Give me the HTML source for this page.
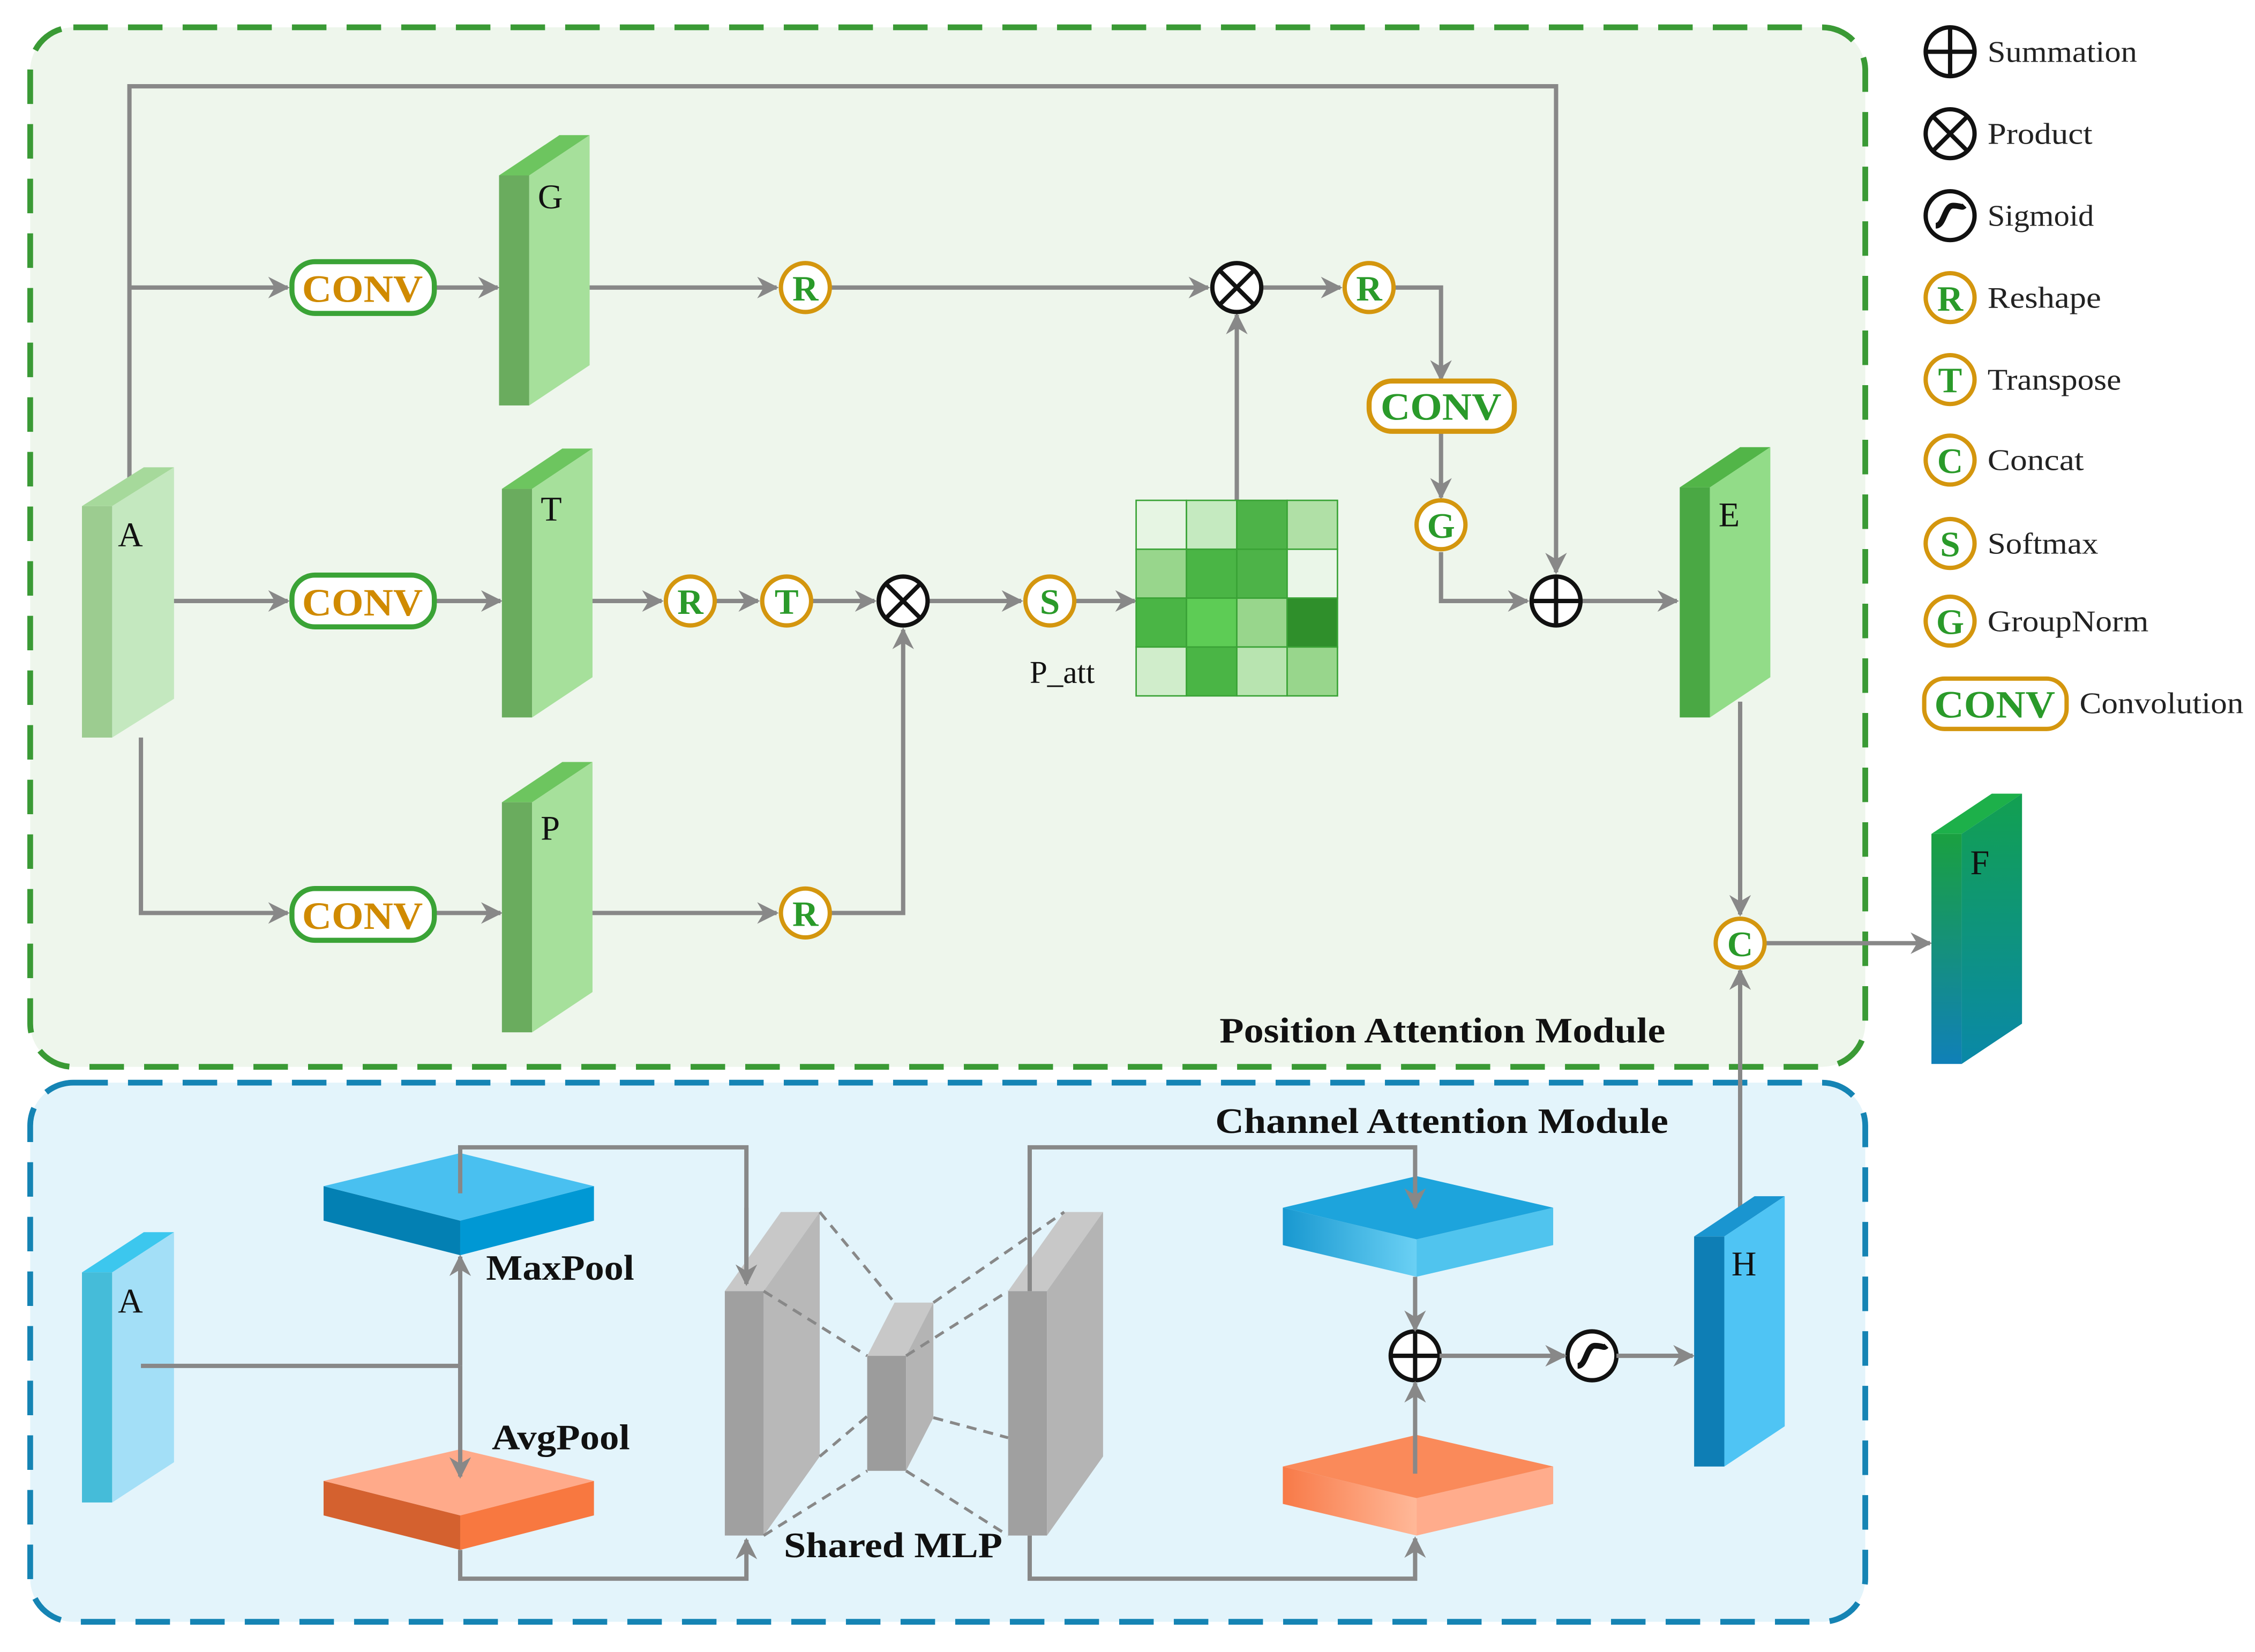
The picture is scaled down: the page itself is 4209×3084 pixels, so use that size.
<!DOCTYPE html>
<html><head><meta charset="utf-8"><style>
html,body{margin:0;padding:0;background:#fff;}
svg{display:block;}
svg text{font-family:"Liberation Serif","DejaVu Serif",serif !important;}
</style></head><body>
<svg width="4209" height="3084" viewBox="0 0 1568 1149" preserveAspectRatio="none" xmlns="http://www.w3.org/2000/svg" font-family="Liberation Serif, serif">
<defs>
<marker id="ar" viewBox="0 0 10 10" refX="9" refY="5" markerWidth="5" markerHeight="5" orient="auto"><path d="M0,0 L10,5 L0,10 L3,5 z" fill="#888"/></marker>
<linearGradient id="gF" x1="0" y1="0" x2="0" y2="1"><stop offset="0" stop-color="#1aa040"/><stop offset="1" stop-color="#1080b8"/></linearGradient>
<linearGradient id="gF2" x1="0" y1="0" x2="0" y2="1"><stop offset="0" stop-color="#12a050"/><stop offset="1" stop-color="#0a88a8"/></linearGradient>
<linearGradient id="gB" x1="0" y1="0" x2="1" y2="0"><stop offset="0" stop-color="#1898d0"/><stop offset="1" stop-color="#6ad0f4"/></linearGradient>
<linearGradient id="gO" x1="0" y1="0" x2="1" y2="0"><stop offset="0" stop-color="#f87a48"/><stop offset="1" stop-color="#ffb898"/></linearGradient>
</defs>
<rect x="0" y="0" width="1568" height="1149" fill="#fff"/>
<rect x="21" y="19" width="1276" height="723" rx="30" fill="#eef6ec" stroke="#3a9a35" stroke-width="4" stroke-dasharray="24 14"/>
<rect x="21" y="753" width="1276" height="375" rx="30" fill="#e3f4fb" stroke="#1584b4" stroke-width="4" stroke-dasharray="24 14"/>

<g stroke="#888" stroke-width="3" fill="none">
<polyline points="90,336 90,60 1082,60 1082,398" marker-end="url(#ar)"/>
<line x1="90" y1="200" x2="200" y2="200" marker-end="url(#ar)"/>
<line x1="302" y1="200" x2="346" y2="200" marker-end="url(#ar)"/>
<line x1="395" y1="200" x2="540" y2="200" marker-end="url(#ar)"/>
<line x1="578" y1="200" x2="840" y2="200" marker-end="url(#ar)"/>
<line x1="878" y1="200" x2="932" y2="200" marker-end="url(#ar)"/>
<polyline points="970,200 1002,200 1002,264" marker-end="url(#ar)"/>
<line x1="1002" y1="300" x2="1002" y2="346" marker-end="url(#ar)"/>
<polyline points="1002,384 1002,418 1062,418" marker-end="url(#ar)"/>
<line x1="1100" y1="418" x2="1166" y2="418" marker-end="url(#ar)"/>
<line x1="98" y1="418" x2="200" y2="418" marker-end="url(#ar)"/>
<line x1="302" y1="418" x2="348" y2="418" marker-end="url(#ar)"/>
<line x1="397" y1="418" x2="460" y2="418" marker-end="url(#ar)"/>
<line x1="498" y1="418" x2="527" y2="418" marker-end="url(#ar)"/>
<line x1="565" y1="418" x2="608" y2="418" marker-end="url(#ar)"/>
<line x1="646" y1="418" x2="710" y2="418" marker-end="url(#ar)"/>
<line x1="748" y1="418" x2="789" y2="418" marker-end="url(#ar)"/>
<polyline points="98,513 98,635 200,635" marker-end="url(#ar)"/>
<line x1="302" y1="635" x2="348" y2="635" marker-end="url(#ar)"/>
<line x1="397" y1="635" x2="540" y2="635" marker-end="url(#ar)"/>
<polyline points="578,635 628,635 628,438" marker-end="url(#ar)"/>
<line x1="860" y1="348" x2="860" y2="219" marker-end="url(#ar)"/>
<line x1="1210" y1="488" x2="1210" y2="636" marker-end="url(#ar)"/>
<line x1="1228" y1="656" x2="1342" y2="656" marker-end="url(#ar)"/>
<line x1="1210" y1="840" x2="1210" y2="675" marker-end="url(#ar)"/>
</g>

<g>
<polygon points="57,352 100,325 121,325 78,352" fill="#a6d99b"/>
<rect x="57" y="352" width="21" height="161" fill="#9ccc90"/>
<polygon points="78,352 121,325 121,486 78,513" fill="#c4e8bf"/>
<polygon points="347,122 389,94 410,94 368,122" fill="#6dc55f"/>
<rect x="347" y="122" width="21" height="160" fill="#6aac5e"/>
<polygon points="368,122 410,94 410,254 368,282" fill="#a6e09b"/>
<polygon points="349,340 391,312 412,312 370,340" fill="#6dc55f"/>
<rect x="349" y="340" width="21" height="159" fill="#6aac5e"/>
<polygon points="370,340 412,312 412,471 370,499" fill="#a6e09b"/>
<polygon points="349,558 391,530 412,530 370,558" fill="#6dc55f"/>
<rect x="349" y="558" width="21" height="160" fill="#6aac5e"/>
<polygon points="370,558 412,530 412,690 370,718" fill="#a6e09b"/>
<polygon points="1168,339 1210,311 1231,311 1189,339" fill="#52b548"/>
<rect x="1168" y="339" width="21" height="160" fill="#4aa844"/>
<polygon points="1189,339 1231,311 1231,471 1189,499" fill="#92dc88"/>
<polygon points="1343,580 1385,552 1406,552 1364,580" fill="#1db04a"/>
<rect x="1343" y="580" width="21" height="160" fill="url(#gF)"/>
<polygon points="1364,580 1406,552 1406,712 1364,740" fill="url(#gF2)"/>
<polygon points="57,885 100,857 121,857 78,885" fill="#3cc7ee"/>
<rect x="57" y="885" width="21" height="160" fill="#45bcd9"/>
<polygon points="78,885 121,857 121,1017 78,1045" fill="#a3dff7"/>
<polygon points="1178,860 1220,832 1241,832 1199,860" fill="#1a95d0"/>
<rect x="1178" y="860" width="21" height="160" fill="#0e7eb5"/>
<polygon points="1199,860 1241,832 1241,992 1199,1020" fill="#4fc4f4"/>
</g>
<g font-size="24" fill="#111">
<text x="82" y="380">A</text><text x="374" y="145">G</text><text x="376" y="362">T</text>
<text x="376" y="584">P</text><text x="1195" y="366">E</text><text x="1370" y="608">F</text>
<text x="82" y="913">A</text><text x="1204" y="887">H</text>
<text x="716" y="475" font-size="22">P_att</text>
</g>

<g stroke="#3aa336" stroke-width="1">
<rect x="790" y="348" width="35" height="34" fill="#e6f5e3"/><rect x="825" y="348" width="35" height="34" fill="#c5eac0"/><rect x="860" y="348" width="35" height="34" fill="#4db348"/><rect x="895" y="348" width="35" height="34" fill="#b0e0a6"/>
<rect x="790" y="382" width="35" height="34" fill="#98d68c"/><rect x="825" y="382" width="35" height="34" fill="#4ab545"/><rect x="860" y="382" width="35" height="34" fill="#4db348"/><rect x="895" y="382" width="35" height="34" fill="#eaf6e8"/>
<rect x="790" y="416" width="35" height="34" fill="#4ab545"/><rect x="825" y="416" width="35" height="34" fill="#5dcc55"/><rect x="860" y="416" width="35" height="34" fill="#98d68c"/><rect x="895" y="416" width="35" height="34" fill="#2f8f2b"/>
<rect x="790" y="450" width="35" height="34" fill="#d0edcb"/><rect x="825" y="450" width="35" height="34" fill="#4ab545"/><rect x="860" y="450" width="35" height="34" fill="#b8e4b0"/><rect x="895" y="450" width="35" height="34" fill="#98d68c"/>
</g>

<g stroke="#3aa336" stroke-width="3.5" fill="#fff">
<rect x="203" y="182" width="99" height="36" rx="16"/>
<rect x="203" y="400" width="99" height="36" rx="16"/>
<rect x="203" y="618" width="99" height="36" rx="16"/>
</g>
<rect x="952" y="265" width="101" height="35" rx="16" fill="#fff" stroke="#d4960e" stroke-width="3.5"/>
<g font-size="27" font-weight="bold" text-anchor="middle">
<text x="252" y="210" fill="#d08a00" textLength="84" lengthAdjust="spacingAndGlyphs">CONV</text>
<text x="252" y="428" fill="#d08a00" textLength="84" lengthAdjust="spacingAndGlyphs">CONV</text>
<text x="252" y="646" fill="#d08a00" textLength="84" lengthAdjust="spacingAndGlyphs">CONV</text>
<text x="1002" y="292" fill="#2a9a2a" textLength="84" lengthAdjust="spacingAndGlyphs">CONV</text>
</g>

<g stroke="#d4960e" stroke-width="3" fill="#fff">
<circle cx="560" cy="200" r="17"/><circle cx="952" cy="200" r="17"/><circle cx="1002" cy="365" r="17"/>
<circle cx="480" cy="418" r="17"/><circle cx="547" cy="418" r="17"/><circle cx="730" cy="418" r="17"/>
<circle cx="560" cy="635" r="17"/><circle cx="1210" cy="656" r="17"/>
</g>
<g font-size="25" font-weight="bold" fill="#2a9a2a" text-anchor="middle">
<text x="560" y="209">R</text><text x="952" y="209">R</text><text x="1002" y="374">G</text>
<text x="480" y="427">R</text><text x="547" y="427">T</text><text x="730" y="427">S</text>
<text x="560" y="644">R</text><text x="1210" y="665">C</text>
</g>

<g stroke="#111" stroke-width="3" fill="#fff">
<circle cx="860" cy="200" r="17"/><path d="M848,188 L872,212 M872,188 L848,212"/>
<circle cx="628" cy="418" r="17"/><path d="M616,406 L640,430 M640,406 L616,430"/>
<circle cx="1082" cy="418" r="17"/><path d="M1065,418 H1099 M1082,401 V435"/>
<circle cx="984" cy="943" r="17"/><path d="M967,943 H1001 M984,926 V960"/>
<circle cx="1107" cy="943" r="17"/><path d="M1097,950 C1103,950 1103,936 1109,936 S1115,938 1117,936" stroke-width="4" fill="none"/>
</g>

<polygon points="225,825 320,849 320,873 225,849" fill="#0380b3"/>
<polygon points="320,849 413,825 413,849 320,873" fill="#0098d4"/>
<polygon points="225,825 320,802 413,825 320,849" fill="#49c0f0"/>
<polygon points="225,1030 320,1054 320,1078 225,1054" fill="#d4612f"/>
<polygon points="320,1054 413,1030 413,1054 320,1078" fill="#f87840"/>
<polygon points="225,1030 320,1008 413,1030 320,1054" fill="#ffaa8a"/>
<polygon points="892,840 985,862 985,888 892,866" fill="url(#gB)"/>
<polygon points="985,862 1080,840 1080,866 985,888" fill="#50c4ee"/>
<polygon points="892,840 985,818 1080,840 985,862" fill="#1da4dc"/>
<polygon points="892,1020 985,1042 985,1068 892,1046" fill="url(#gO)"/>
<polygon points="985,1042 1080,1020 1080,1046 985,1068" fill="#ffac8c"/>
<polygon points="892,1020 985,998 1080,1020 985,1042" fill="#fa8a5a"/>

<g stroke="#888" stroke-width="3" fill="none">
<line x1="98" y1="950" x2="320" y2="950"/>
<line x1="320" y1="950" x2="320" y2="874" marker-end="url(#ar)"/>
<line x1="320" y1="950" x2="320" y2="1027" marker-end="url(#ar)"/>
<polyline points="320,830 320,798 519,798 519,893" marker-end="url(#ar)"/>
<polyline points="320,1078 320,1098 519,1098 519,1071" marker-end="url(#ar)"/>
<polyline points="716,898 716,798 984,798 984,840" marker-end="url(#ar)"/>
<polyline points="716,1068 716,1098 984,1098 984,1070" marker-end="url(#ar)"/>
<line x1="984" y1="888" x2="984" y2="925" marker-end="url(#ar)"/>
<line x1="984" y1="1025" x2="984" y2="962" marker-end="url(#ar)"/>
<line x1="1001" y1="943" x2="1088" y2="943" marker-end="url(#ar)"/>
<line x1="1124" y1="943" x2="1177" y2="943" marker-end="url(#ar)"/>
</g>

<polygon points="504,898 543,843 570,843 531,898" fill="#c8c8c8"/>
<rect x="504" y="898" width="27" height="170" fill="#a0a0a0"/>
<polygon points="531,898 570,843 570,1013 531,1068" fill="#b8b8b8"/>
<polygon points="603,943 622,906 649,906 630,943" fill="#c8c8c8"/>
<rect x="603" y="943" width="27" height="80" fill="#9c9c9c"/>
<polygon points="630,943 649,906 649,986 630,1023" fill="#b4b4b4"/>
<polygon points="701,898 740,843 767,843 728,898" fill="#c8c8c8"/>
<rect x="701" y="898" width="27" height="170" fill="#a0a0a0"/>
<polygon points="728,898 767,843 767,1013 728,1068" fill="#b4b4b4"/>
<line x1="519" y1="840" x2="519" y2="893" stroke="#888" stroke-width="3" marker-end="url(#ar)"/>
<line x1="716" y1="898" x2="716" y2="840" stroke="#888" stroke-width="3"/>
<g stroke="#888" stroke-width="2" stroke-dasharray="7 5" fill="none">
<line x1="570" y1="843" x2="622" y2="906"/><line x1="531" y1="898" x2="603" y2="943"/>
<line x1="531" y1="1068" x2="603" y2="1023"/><line x1="570" y1="1013" x2="603" y2="985"/>
<line x1="649" y1="906" x2="740" y2="843"/><line x1="630" y1="943" x2="701" y2="898"/>
<line x1="649" y1="986" x2="701" y2="1000"/><line x1="630" y1="1023" x2="701" y2="1068"/>
</g>

<g font-size="25" font-weight="bold" fill="#111">
<text x="848" y="725" textLength="310" lengthAdjust="spacingAndGlyphs">Position Attention Module</text>
<text x="845" y="788" textLength="315" lengthAdjust="spacingAndGlyphs">Channel Attention Module</text>
<text x="338" y="890" textLength="103" lengthAdjust="spacingAndGlyphs">MaxPool</text>
<text x="342" y="1008" textLength="96" lengthAdjust="spacingAndGlyphs">AvgPool</text>
<text x="545" y="1083" textLength="152" lengthAdjust="spacingAndGlyphs">Shared MLP</text>
</g>

<g stroke="#111" stroke-width="3" fill="#fff">
<circle cx="1356" cy="36" r="17"/><path d="M1339,36 H1373 M1356,19 V53"/>
<circle cx="1356" cy="93" r="17"/><path d="M1344,81 L1368,105 M1368,81 L1344,105"/>
<circle cx="1356" cy="150" r="17"/><path d="M1346,157 C1352,157 1352,143 1358,143 S1364,145 1366,143" stroke-width="4" fill="none"/>
</g>
<g stroke="#d4960e" stroke-width="3" fill="#fff">
<circle cx="1356" cy="207" r="17"/><circle cx="1356" cy="264" r="17"/><circle cx="1356" cy="320" r="17"/>
<circle cx="1356" cy="378" r="17"/><circle cx="1356" cy="432" r="17"/>
<rect x="1338" y="472" width="99" height="35" rx="14"/>
</g>
<g font-size="25" font-weight="bold" fill="#2a9a2a" text-anchor="middle">
<text x="1356" y="216">R</text><text x="1356" y="273">T</text><text x="1356" y="329">C</text>
<text x="1356" y="387">S</text><text x="1356" y="441">G</text>
<text x="1387" y="499" font-size="27" textLength="84" lengthAdjust="spacingAndGlyphs">CONV</text>
</g>
<g font-size="21" fill="#222">
<text x="1382" y="43" textLength="104" lengthAdjust="spacingAndGlyphs">Summation</text>
<text x="1382" y="100" textLength="73" lengthAdjust="spacingAndGlyphs">Product</text>
<text x="1382" y="157" textLength="74" lengthAdjust="spacingAndGlyphs">Sigmoid</text>
<text x="1382" y="214" textLength="79" lengthAdjust="spacingAndGlyphs">Reshape</text>
<text x="1382" y="271" textLength="93" lengthAdjust="spacingAndGlyphs">Transpose</text>
<text x="1382" y="327" textLength="67" lengthAdjust="spacingAndGlyphs">Concat</text>
<text x="1382" y="385" textLength="77" lengthAdjust="spacingAndGlyphs">Softmax</text>
<text x="1382" y="439" textLength="112" lengthAdjust="spacingAndGlyphs">GroupNorm</text>
<text x="1446" y="496" textLength="114" lengthAdjust="spacingAndGlyphs">Convolution</text>
</g>
</svg>
</body></html>
